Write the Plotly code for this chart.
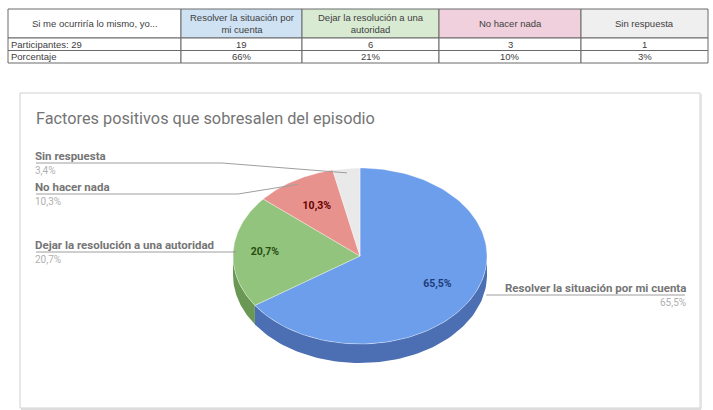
import numpy as np
import plotly.graph_objects as go

# ---------------- data ----------------
categories = ["Resolver la situación por mi cuenta", "Dejar la resolución a una autoridad",
              "No hacer nada", "Sin respuesta"]
header_short = ["Resolver la situación por<br>mi cuenta", "Dejar la resolución a una<br>autoridad",
                "No hacer nada", "Sin respuesta"]
counts = [19, 6, 3, 1]
participants = 29
table_first_col_header = "Si me ocurriría lo mismo, yo..."
table_row_labels = ["Participantes: 29", "Porcentaje"]
title_text = "Factores positivos que sobresalen del episodio"

# ---------------- styles ----------------
top_colors = ["#6d9eeb", "#93c47d", "#e8928d", "#e9e9e9"]
side_colors = ["#4b6fb2", "#6a9754", "#b86a66", "#bdbdbd"]
label_colors = ["#1c3d7a", "#274e13", "#660000", "#444444"]
header_fills = ["#ffffff", "#cfe2f3", "#d9ead3", "#f0d0dc", "#efefef"]

W, H = 713, 410
cx, cy, rx, ry, depth = 360, 256, 127, 88, 19
col_edges = [8, 181, 302, 439, 581, 708]
row_edges = [9, 38, 50.5, 63]

pct = [c / participants * 100 for c in counts]
pct_lbl = [f"{p:.1f}".replace(".", ",") + "%" for p in pct]
pct_round = [f"{round(p)}%" for p in pct]

fig = go.Figure()

# ---------------- table (drawn as cells) ----------------
tab_font = dict(family="Liberation Sans, Arial", size=9.5, color="#404040")
header_vals = [table_first_col_header] + header_short
body_vals = [table_row_labels] + [[str(c), pr] for c, pr in zip(counts, pct_round)]
grid_col = "#6a6a6a"
for j in range(5):
    x0, x1 = col_edges[j], col_edges[j + 1]
    fig.add_shape(type="rect", x0=x0, x1=x1, y0=row_edges[0], y1=row_edges[1],
                  fillcolor=header_fills[j], line=dict(color=grid_col, width=1))
    fig.add_annotation(x=(x0 + x1) / 2, y=(row_edges[0] + row_edges[1]) / 2, text=header_vals[j],
                       showarrow=False, xanchor="center", yanchor="middle", align="center",
                       font=tab_font)
    for r in range(2):
        y0, y1 = row_edges[r + 1], row_edges[r + 2]
        fig.add_shape(type="rect", x0=x0, x1=x1, y0=y0, y1=y1, fillcolor="#ffffff",
                      line=dict(color=grid_col, width=1))
        if j == 0:
            fig.add_annotation(x=x0 + 1, y=(y0 + y1) / 2, text=body_vals[j][r], showarrow=False,
                               xanchor="left", yanchor="middle", font=tab_font)
        else:
            fig.add_annotation(x=(x0 + x1) / 2, y=(y0 + y1) / 2, text=body_vals[j][r],
                               showarrow=False, xanchor="center", yanchor="middle", font=tab_font)

# ---------------- 3D-ish pie ----------------
def pt(theta_deg, f=1.0, dy=0.0):
    t = np.radians(theta_deg)
    return cx + rx * f * np.sin(t), cy - ry * f * np.cos(t) + dy

bounds = np.concatenate([[0], np.cumsum(pct) * 3.6])
starts, ends = bounds[:-1], bounds[1:]

# side walls (front half only)
for i in range(len(counts)):
    a, b = max(starts[i], 90), min(ends[i], 270)
    if b <= a:
        continue
    th = np.linspace(a, b, 80)
    xs_top, ys_top = pt(th)
    xs_bot, ys_bot = pt(th[::-1], dy=depth)
    fig.add_trace(go.Scatter(x=np.concatenate([xs_top, xs_bot]), y=np.concatenate([ys_top, ys_bot]),
                             fill="toself", fillcolor=side_colors[i], mode="lines",
                             line=dict(width=0, color=side_colors[i]), hoverinfo="skip",
                             showlegend=False))

# top faces
for i in range(len(counts)):
    th = np.linspace(starts[i], ends[i], 120)
    xs, ys = pt(th)
    fig.add_trace(go.Scatter(x=np.concatenate([[cx], xs, [cx]]), y=np.concatenate([[cy], ys, [cy]]),
                             fill="toself", fillcolor=top_colors[i], mode="lines",
                             line=dict(width=0.6, color="rgba(255,255,255,0.6)"), hoverinfo="skip",
                             showlegend=False))

# in-slice percentage labels
mids = (starts + ends) / 2
inner_f = [0.69, 0.75, 0.66, 0.7]
for i in range(3):
    x, y = pt(mids[i], inner_f[i])
    fig.add_trace(go.Scatter(x=[x], y=[y], mode="text", text=[f"<b>{pct_lbl[i]}</b>"],
                             textfont=dict(family="Roboto", size=10.5, color=label_colors[i]),
                             hoverinfo="skip", showlegend=False))

# ---------------- outside labels & leaders ----------------
line_col = "#9e9e9e"
name_col = "#757575"
val_col = "#b0b0b0"
lab_font = "Roboto"

# left labels: (index, line y, knee x, leader end factor)
left_specs = [(3, 163, 222, 0.95), (2, 194, 238, 0.95), (1, 252, 236, 1.0)]
for i, ly, kx, f in left_specs:
    ex, ey = pt(mids[i], f)
    fig.add_trace(go.Scatter(x=[36, kx, ex], y=[ly, ly, ey], mode="lines",
                             line=dict(color=line_col, width=1), hoverinfo="skip", showlegend=False))
    fig.add_annotation(x=34, y=ly + 0.5, text=f"<b>{categories[i]}</b>", showarrow=False,
                       xanchor="left", yanchor="bottom", borderpad=0,
                       font=dict(family=lab_font, size=11.5, color=name_col))
    fig.add_annotation(x=34, y=ly + 0.5, text=pct_lbl[i], showarrow=False,
                       xanchor="left", yanchor="top", borderpad=0,
                       font=dict(family=lab_font, size=10, color=val_col))

# right label for the big slice
ex, ey = pt(mids[0], 1.0)
fig.add_trace(go.Scatter(x=[ex + 14, 685], y=[295, 295], mode="lines",
                         line=dict(color=line_col, width=1), hoverinfo="skip", showlegend=False))
fig.add_annotation(x=687, y=295.5, text=f"<b>{categories[0]}</b>", showarrow=False,
                   xanchor="right", yanchor="bottom", borderpad=0,
                   font=dict(family=lab_font, size=11.5, color=name_col))
fig.add_annotation(x=687, y=295.5, text=pct_lbl[0], showarrow=False,
                   xanchor="right", yanchor="top", borderpad=0,
                   font=dict(family=lab_font, size=10, color=val_col))

# title
fig.add_annotation(x=34, y=118, text=title_text, showarrow=False, xanchor="left", yanchor="middle",
                   font=dict(family="Roboto", size=16.3, color="#757575"))

# chart box
fig.add_shape(type="rect", x0=20, y0=93, x1=700, y1=408, line=dict(color="#d0d0d0", width=1),
              layer="below")
fig.add_shape(type="line", x0=21, y0=409, x1=701, y1=409, line=dict(color="#dddddd", width=2),
              layer="below")
fig.add_shape(type="line", x0=701, y0=94, x1=701, y1=409, line=dict(color="#e4e4e4", width=2),
              layer="below")

fig.update_layout(
    width=W, height=H, margin=dict(l=0, r=0, t=0, b=0),
    paper_bgcolor="#ffffff", plot_bgcolor="rgba(0,0,0,0)",
    xaxis=dict(range=[0, W], visible=False, fixedrange=True),
    yaxis=dict(range=[H, 0], visible=False, fixedrange=True),
    showlegend=False,
)

fig.write_html("out.html")
